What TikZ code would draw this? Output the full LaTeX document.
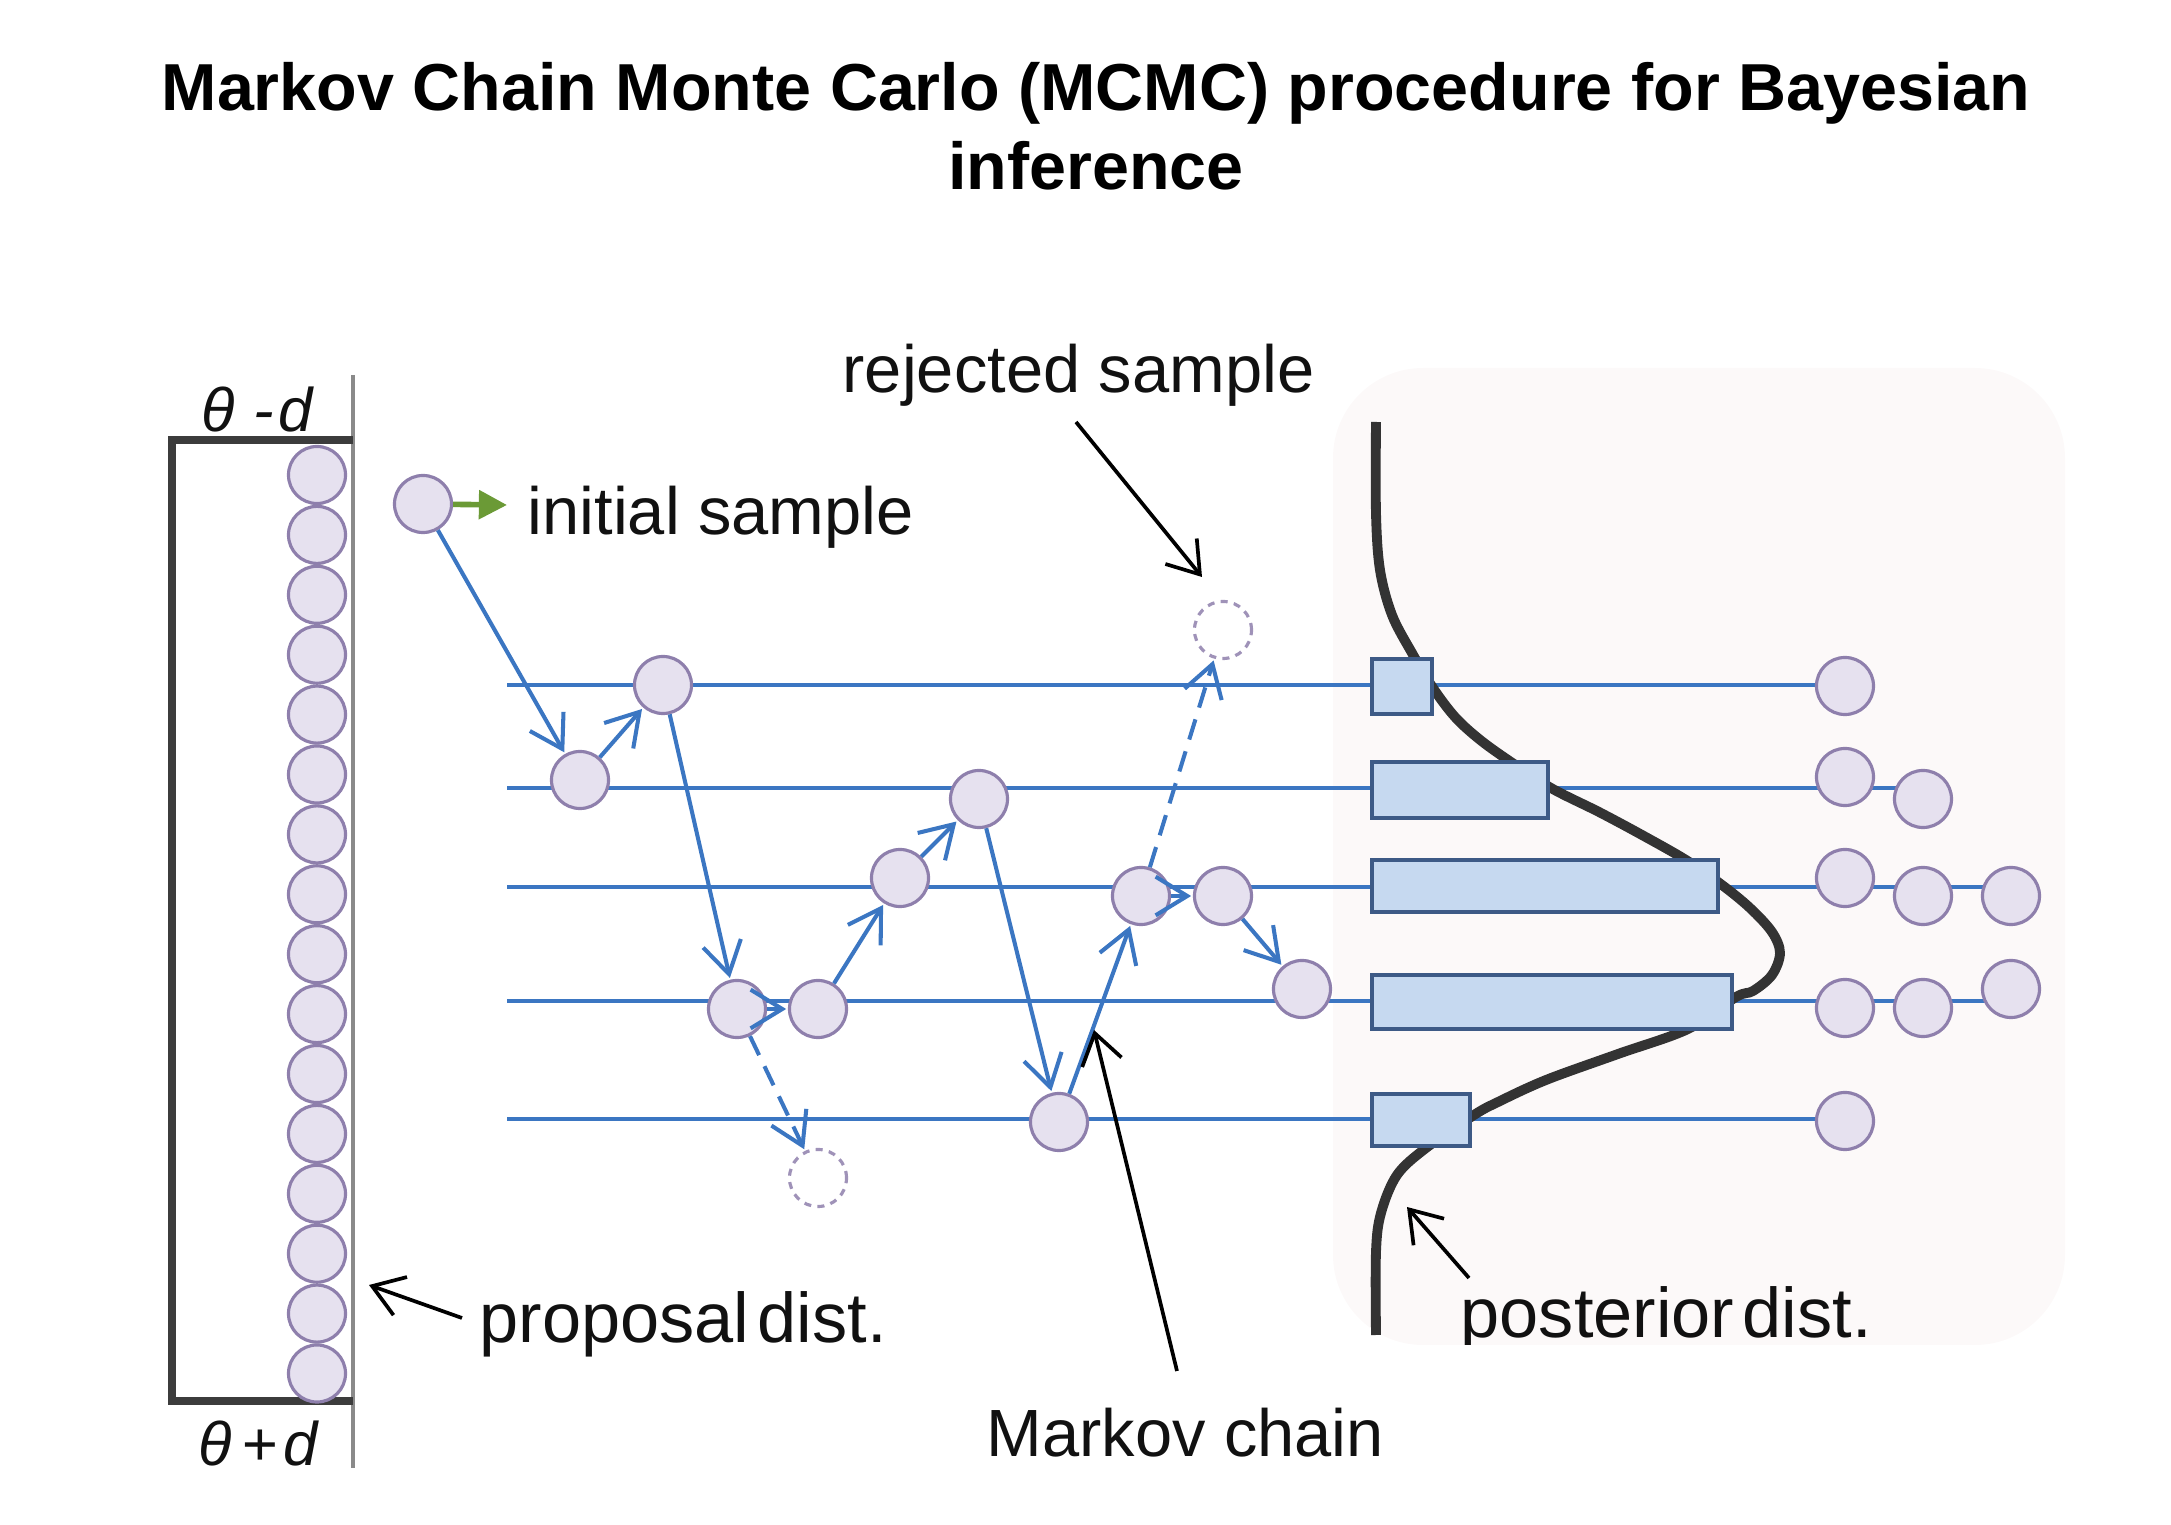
\documentclass[tikz,border=0pt]{standalone}
\usepackage{fontspec}
\setmainfont{Liberation Sans}
\usetikzlibrary{arrows.meta}
\definecolor{lineblue}{HTML}{3B76C2}
\definecolor{circfill}{HTML}{E6E1EF}
\definecolor{circdraw}{HTML}{8E7FAC}
\definecolor{barfill}{HTML}{C6D9F0}
\definecolor{bardraw}{HTML}{3D5A86}
\definecolor{postbg}{HTML}{FCF9F9}
\definecolor{curvegray}{HTML}{333333}
\definecolor{framegray}{HTML}{3C3C3C}
\definecolor{thingray}{HTML}{8A8A8A}
\definecolor{arrowgreen}{HTML}{6B9A36}
\definecolor{txt}{HTML}{111111}
\begin{document}
\begin{tikzpicture}[x=0.01cm,y=-0.01cm,
  samp/.style={circle, draw=circdraw, fill=circfill, line width=0.9pt, minimum size=0.57cm, inner sep=0pt},
  rejsamp/.style={circle, draw=circdraw!85, dash pattern=on 2pt off 1.8pt, line width=0.9pt, minimum size=0.57cm, inner sep=0pt},
  rowthick/.style={draw=lineblue, line width=1.35pt},
  rowthin/.style={draw=lineblue, line width=1.0pt},
  chainarrow/.style={draw=lineblue, line width=1.15pt, -{Straight Barb[length=9pt,width=11pt]}, shorten >=0.5pt},
  dasharrow/.style={chainarrow, dash pattern=on 6pt off 3.5pt},
  annot/.style={draw=black, line width=1.05pt, -{Straight Barb[length=8.5pt,width=11.5pt]}},
  barbox/.style={draw=bardraw, fill=barfill, line width=1.2pt},
  lbl/.style={font=\fontsize{19}{22}\selectfont, text=txt, inner sep=0pt},
  lblbig/.style={font=\fontsize{20}{23}\selectfont, text=txt, inner sep=0pt},
  ttl/.style={font=\fontsize{18.9}{22.5}\selectfont\bfseries, text=black, inner sep=0pt},
  thlbl/.style={font=\fontsize{17.5}{20}\selectfont\itshape, text=txt, inner sep=0pt}
]
\useasboundingbox (0,0) rectangle (2171,1525);

% title
\node[ttl, anchor=base] (title1) at (1096,111) {Markov Chain Monte Carlo (MCMC) procedure for Bayesian};
\node[ttl, anchor=base] (title2) at (1096,190) {inference};

% posterior background box
\fill[postbg, rounded corners=0.9cm] (1333,368) rectangle (2065,1345);

% proposal frame
\draw[thingray, line width=0.9pt] (353,375) -- (353,1468);
\draw[framegray, line width=2.1pt] (353,440) -- (172,440) -- (172,1401) -- (353,1401);
\foreach \k in {0,...,15} {
  \node[samp] (L\k) at (317,{475+59.9*\k}) {};
}
\node[thlbl, anchor=base] (thminus) at (257,432) {θ\hspace{0.3em}-\hspace{0.08em}d};
\node[thlbl, anchor=base] (thplus) at (258,1466) {θ\hspace{0.15em}+\hspace{0.1em}d};

% horizontal rows
\draw[rowthick] (507,685) -- (1847,685);
\draw[rowthick] (507,788) -- (1925,788);
\draw[rowthin] (507,887) -- (2013,887);
\draw[rowthin] (507,1001) -- (2013,1001);
\draw[rowthin] (507,1119) -- (1847,1119);

% posterior curve
\draw[curvegray, line width=2.8pt] plot[smooth, tension=0.55] coordinates {
 (1376,422) (1376,513) (1380,570) (1392,615) (1412,653) (1433,688) (1455,717)
 (1479,739) (1508,760) (1551,788) (1599,812) (1642,835) (1686,860) (1722,885)
 (1750,908) (1772,932) (1780,953) (1772,975) (1753,991) (1736,997) (1688,1029)
 (1618,1054) (1546,1080) (1498,1102) (1474,1115) (1426,1148) (1397,1175)
 (1381,1213) (1376,1252) (1376,1335)};

% bars
\draw[barbox] (1372,659) rectangle (1432,714);
\draw[barbox] (1372,762) rectangle (1548,818);
\draw[barbox] (1372,860) rectangle (1718,912);
\draw[barbox] (1372,975) rectangle (1732,1029);
\draw[barbox] (1372,1094) rectangle (1470,1146);

% right-side samples
\node[samp] (r1a) at (1845,686) {};
\node[samp] (r2a) at (1845,777) {};
\node[samp] (r2b) at (1923,799) {};
\node[samp] (r3a) at (1845,878) {};
\node[samp] (r3b) at (1923,896) {};
\node[samp] (r3c) at (2011,896) {};
\node[samp] (r4a) at (1845,1008) {};
\node[samp] (r4b) at (1923,1008) {};
\node[samp] (r4c) at (2011,989) {};
\node[samp] (r5a) at (1845,1121) {};

% chain samples
\node[samp] (init) at (423,504) {};
\node[samp] (c1) at (580,780) {};
\node[samp] (c2) at (663,685) {};
\node[samp] (c3) at (737,1009) {};
\node[samp] (c4) at (818,1009) {};
\node[samp] (c5) at (900,878) {};
\node[samp] (c6) at (979,799) {};
\node[samp] (c7) at (1059,1122) {};
\node[samp] (c8) at (1141,896) {};
\node[samp] (c9) at (1223,896) {};
\node[samp] (c10) at (1302,989) {};
\node[rejsamp] (rj1) at (818,1178) {};
\node[rejsamp] (rj2) at (1223,630) {};

% chain arrows
\draw[chainarrow] (init) -- (c1);
\draw[chainarrow] (c1) -- (c2);
\draw[chainarrow] (c2) -- (c3);
\draw[chainarrow] (c3) -- (c4);
\draw[dasharrow] (c3) -- (rj1);
\draw[chainarrow] (c4) -- (c5);
\draw[chainarrow] (c5) -- (c6);
\draw[chainarrow] (c6) -- (c7);
\draw[chainarrow] (c7) -- (c8);
\draw[chainarrow] (c8) -- (c9);
\draw[dasharrow] (c8) -- (rj2);
\draw[chainarrow] (c9) -- (c10);

% green arrow and labels
\coordinate (ga) at (507,505);
\draw[arrowgreen, line width=1.6pt, -{Triangle[length=8pt,width=8pt]}] (init) -- (ga);
\node[lbl, anchor=base west] (initlbl) at (527,535) {initial sample};
\node[lbl, anchor=base west] (rejlbl) at (842,393) {rejected sample};
\node[lblbig, anchor=base west] (proplbl) at (479,1343) {proposal\hspace{0.12em}dist.};
\node[lbl, anchor=base west] (mclbl) at (986,1457) {Markov chain};
\begin{scope}
  \clip[rounded corners=0.9cm] (1333,368) rectangle (2065,1345);
  \node[lblbig, anchor=base west] (postlbl) at (1460,1338) {posterior\hspace{0.12em}dist.};
\end{scope}

% annotation arrows
\coordinate (rsA) at (1076,422); \coordinate (rsB) at (1202,577);
\coordinate (pdA) at (462,1318); \coordinate (pdB) at (369,1285);
\coordinate (mcA) at (1177,1371); \coordinate (mcB) at (1094,1030);
\coordinate (poA) at (1469,1278); \coordinate (poB) at (1407,1207);
\draw[annot] (rsA) -- (rsB);
\draw[annot] (pdA) -- (pdB);
\draw[annot] (mcA) -- (mcB);
\draw[annot] (poA) -- (poB);
\end{tikzpicture}
\end{document}
